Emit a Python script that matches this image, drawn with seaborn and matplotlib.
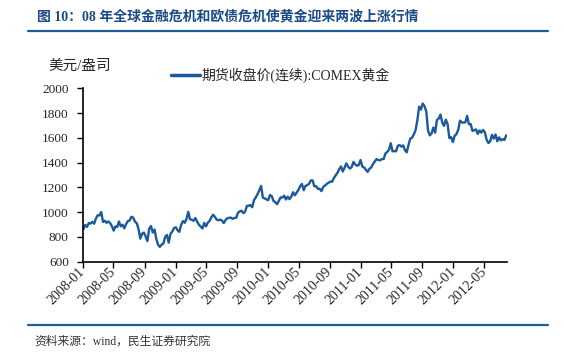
import pandas as pd
import matplotlib
matplotlib.use('Agg')
import matplotlib.pyplot as plt
import matplotlib.dates as mdates
from matplotlib.lines import Line2D
import seaborn as sns

# COMEX gold, continuous futures close, weekly (Fridays), USD/oz
gold_2008 = [864, 897, 881, 912, 908, 922, 907, 948, 975, 973, 1001, 921, 931,
             914, 925, 912, 887, 851, 885, 880, 925, 886, 898, 870, 904, 928,
             933, 963, 956, 924, 911, 864, 786, 826, 835, 804, 766, 866, 888,
             836, 860, 785, 737, 720, 738, 747, 800, 816, 754, 825, 843, 872]
gold_2009 = [878, 853, 841, 898, 928, 914, 944, 1002, 942, 939, 930, 953, 923,
             899, 883, 868, 913, 885, 915, 929, 958, 979, 962, 939, 935, 940,
             932, 912, 937, 951, 954, 956, 946, 953, 955, 996, 1006, 1012, 992,
             1003, 1050, 1052, 1057, 1040, 1096, 1118, 1146, 1176, 1212, 1118,
             1111, 1104]
gold_2010 = [1096, 1138, 1130, 1090, 1081, 1064, 1092, 1119, 1118, 1133, 1102,
             1125, 1105, 1125, 1161, 1136, 1157, 1180, 1209, 1228, 1177, 1212,
             1218, 1229, 1256, 1256, 1208, 1210, 1188, 1189, 1170, 1204, 1215,
             1228, 1237, 1247, 1246, 1276, 1297, 1318, 1346, 1369, 1328, 1359,
             1394, 1368, 1352, 1364, 1406, 1385, 1375, 1380, 1421]
gold_2011 = [1369, 1361, 1342, 1325, 1350, 1361, 1388, 1409, 1429, 1421, 1418,
             1429, 1429, 1474, 1486, 1504, 1556, 1491, 1493, 1491, 1536, 1542,
             1529, 1539, 1501, 1483, 1542, 1594, 1601, 1628, 1663, 1744, 1852,
             1828, 1877, 1857, 1813, 1658, 1620, 1636, 1683, 1642, 1745, 1755,
             1788, 1724, 1697, 1747, 1712, 1598, 1606, 1566]
gold_2012 = [1617, 1630, 1665, 1739, 1725, 1723, 1725, 1777, 1710, 1711, 1656,
             1662, 1668, 1632, 1660, 1642, 1664, 1645, 1584, 1558, 1573, 1624,
             1594, 1627, 1572, 1604, 1579, 1590, 1583, 1620]

prices = gold_2008 + gold_2009 + gold_2010 + gold_2011 + gold_2012
dates = pd.date_range('2008-01-04', periods=len(prices), freq='W-FRI')
df = pd.DataFrame({'date': dates, 'price': prices})

tick_dates = pd.date_range('2008-01-01', '2012-05-01', freq='4MS')

sns.set_style('ticks')
plt.rcParams['font.family'] = ['Liberation Serif', 'Noto Sans CJK SC']
plt.rcParams['axes.unicode_minus'] = False

blue = '#1A5A9C'

fig = plt.figure(figsize=(5.64, 3.59), dpi=100)
ax = fig.add_axes([82.7 / 564, 1 - 261.7 / 359, (506.7 - 82.7) / 564, (261.7 - 88.3) / 359])

sns.lineplot(data=df, x='date', y='price', ax=ax, color=blue, linewidth=1.7,
             label='期货收盘价(连续):COMEX黄金', legend=False)

ax.set_xlim(pd.Timestamp('2008-01-01'), pd.Timestamp('2012-07-29'))
ax.set_ylim(600, 2000)
ax.set_yticks(range(600, 2001, 200))
ax.set_xticks(tick_dates)
ax.xaxis.set_major_formatter(mdates.DateFormatter('%Y-%m'))
ax.set_xlabel('')
ax.set_ylabel('')
ax.tick_params(axis='both', direction='out', length=4, width=1, color='black',
               labelsize=9.5, pad=6)
ax.tick_params(axis='x', pad=2, labelsize=10)
plt.setp(ax.get_xticklabels(), rotation=45, ha='right', va='center', rotation_mode='anchor')
sns.despine(ax=ax)
for s in ['left', 'bottom']:
    ax.spines[s].set_color('black')
    ax.spines[s].set_linewidth(1.2)

fig.legend(handles=[Line2D([], [], color=blue, linewidth=2.5)],
           labels=['期货收盘价(连续):COMEX黄金'],
           loc='center left', bbox_to_anchor=(171 / 564, 1 - 75 / 359),
           frameon=False, fontsize=10, handlelength=2.1, handletextpad=0.1,
           borderpad=0, borderaxespad=0)

fig.text(48 / 564, 1 - 66 / 359, '美元/盎司', fontsize=10.5, ha='left', va='center')

fig.text(37 / 564, 1 - 17 / 359, '图 10：08 年全球金融危机和欧债危机使黄金迎来两波上涨行情',
         fontsize=10, fontweight='bold', color='#1B4A86', ha='left', va='center')
fig.add_artist(Line2D([28 / 564, 548 / 564], [1 - 31 / 359, 1 - 31 / 359],
                      transform=fig.transFigure, color='#1F5E9C', linewidth=1.6))
fig.add_artist(Line2D([28 / 564, 548 / 564], [1 - 325 / 359, 1 - 325 / 359],
                      transform=fig.transFigure, color='#1F5E9C', linewidth=1.6))
fig.text(34 / 564, 1 - 342 / 359, '资料来源：wind，民生证券研究院', fontsize=8.5,
         color='#333333', ha='left', va='center')

fig.savefig('out.png', dpi=100)
